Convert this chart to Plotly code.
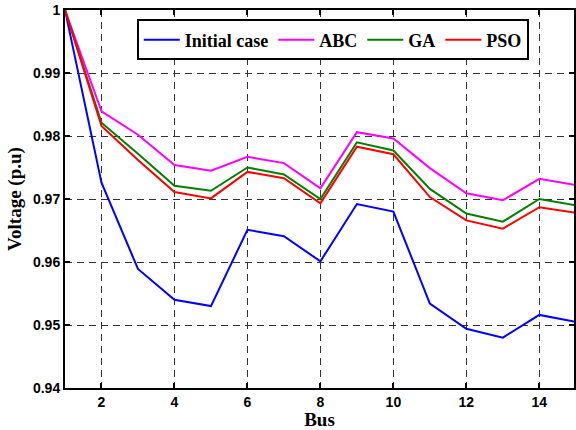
import plotly.graph_objects as go

# Bus numbers and per-unit voltage profiles for each case
bus = list(range(1, 16))
initial_case = [1.0, 0.9726, 0.9589, 0.9540, 0.9530, 0.9651, 0.9641, 0.9601,
                0.9692, 0.9680, 0.9534, 0.9494, 0.9480, 0.9516, 0.9505]
abc = [1.0, 0.9839, 0.9802, 0.9754, 0.9745, 0.9767, 0.9757, 0.9717,
       0.9806, 0.9796, 0.9749, 0.9709, 0.9698, 0.9732, 0.9722]
ga = [1.0, 0.9821, 0.9772, 0.9721, 0.9713, 0.9750, 0.9739, 0.9700,
      0.9790, 0.9777, 0.9716, 0.9677, 0.9664, 0.9700, 0.9690]
pso = [1.0, 0.9816, 0.9762, 0.9711, 0.9701, 0.9743, 0.9733, 0.9693,
       0.9783, 0.9771, 0.9703, 0.9666, 0.9653, 0.9687, 0.9678]

series = [
    ("Initial case", initial_case, "#0000FF"),
    ("ABC", abc, "#FF00FF"),
    ("GA", ga, "#008000"),
    ("PSO", pso, "#FF0000"),
]

x_ticks = [2, 4, 6, 8, 10, 12, 14]
y_ticks = [0.94, 0.95, 0.96, 0.97, 0.98, 0.99, 1.0]
y_tick_text = ["0.94", "0.95", "0.96", "0.97", "0.98", "0.99", "1"]

fig = go.Figure()
for name, values, color in series:
    fig.add_trace(go.Scatter(
        x=bus, y=values, mode="lines", name=name,
        line=dict(color=color, width=2),
    ))

tick_font = dict(family="Liberation Sans", size=14, color="black", weight="bold")
title_font = dict(family="Liberation Serif", size=19, color="black", weight="bold")

grid = dict(showgrid=True, gridcolor="#333333", gridwidth=1, griddash="7px,5px")
frame = dict(ticks="inside", ticklen=5, tickwidth=1.5, tickcolor="black",
             showline=True, linecolor="black", linewidth=2, mirror="ticks",
             zeroline=False)

fig.update_layout(
    width=576, height=430,
    margin=dict(l=65, r=0, t=10, b=42),
    plot_bgcolor="white", paper_bgcolor="white",
    showlegend=True,
    legend=dict(
        orientation="h", x=0.141, y=0.975, xanchor="left", yanchor="top",
        bgcolor="white", bordercolor="black", borderwidth=2,
        font=dict(family="Liberation Serif", size=18, color="black", weight="bold"),
        itemwidth=36, tracegroupgap=0,
    ),
    xaxis=dict(
        range=[1, 14.95], tickvals=x_ticks, tickfont=tick_font,
        title=dict(text="Bus", font=title_font, standoff=2),
        **frame, **grid,
    ),
    yaxis=dict(
        range=[0.94, 1.0], tickvals=y_ticks, ticktext=y_tick_text,
        tickfont=tick_font,
        title=dict(text="Voltage (p.u)", font=title_font, standoff=6),
        **frame, **grid,
    ),
)

fig.write_html("out.html")
